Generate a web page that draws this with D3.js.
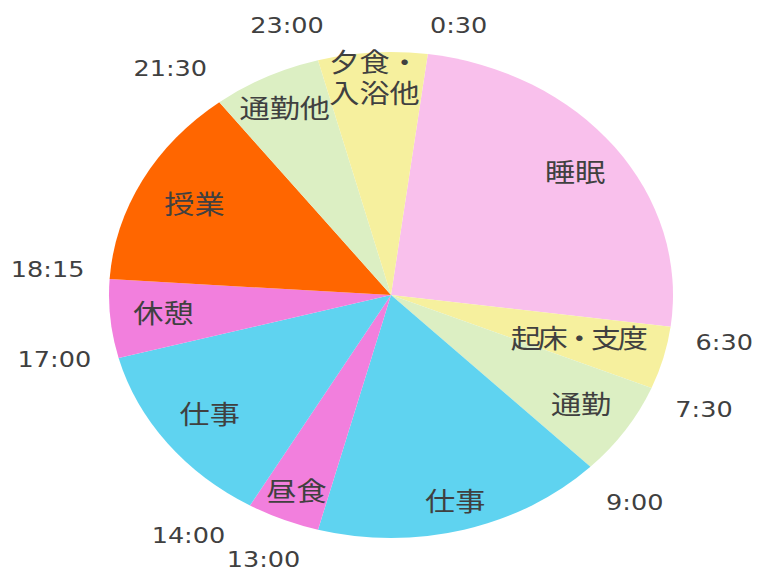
<!DOCTYPE html>
<html><head><meta charset="utf-8">
<script src="https://cdn.jsdelivr.net/npm/d3@7"></script>
<style>html,body{margin:0;padding:0;background:#fff;}svg{display:block;}</style>
</head><body>
<div id="chart"></div>
<script>
// ---- data ----
const categories = ["睡眠", "起床・支度", "通勤", "仕事", "昼食", "仕事", "休憩", "授業", "通勤他", "夕食・\n入浴他"];
const hours = [6, 1, 1.5, 4, 1, 3, 1.25, 3.25, 1.5, 1.5];
const timeLabels = ["0:30", "6:30", "7:30", "9:00", "13:00", "14:00", "17:00", "18:15", "21:30", "23:00"];

// ---- layout / style (not data) ----
const colors = ["#f9c0ec", "#f6f09e", "#dcefc3", "#5fd3f0", "#f27fdd", "#5fd3f0", "#f27fdd", "#ff6600", "#dcefc3", "#f6f09e"];
const labelRadius = [200, 168, 197, 214, 213, 197, 197, 192, 207, 217];
const timeNudge = { // [angle offset deg, radius offset]
  "0:30": [4.7, -17], "6:30": [1.8, -2], "7:30": [0.5, 0], "9:00": [-0.4, 2],
  "13:00": [7.6, -7], "14:00": [6, 4], "17:00": [2.6, 4], "18:15": [1.25, 4],
  "21:30": [-2.5, 3], "23:00": [-3.4, -9]
};

const W = 758, H = 573, cx = 391, cy = 295, R = 243, sx = 282 / 243;
const FS = 26;
const parseT = s => { const [h, m] = s.split(":").map(Number); return h + m / 60; };
const angle = d3.scaleLinear().domain([0, 24]).range([0, 2 * Math.PI]);
const a0 = angle(parseT(timeLabels[0]));

const svg = d3.select("#chart").append("svg").attr("width", W).attr("height", H);
const g = svg.append("g").attr("transform", `translate(${cx},${cy}) scale(${sx},1)`);

const pie = d3.pie().sort(null).value(d => d).startAngle(a0).endAngle(a0 + 2 * Math.PI);
const arcs = pie(hours);
const arc = d3.arc().innerRadius(0).outerRadius(R);

g.selectAll("path.slice").data(arcs).enter().append("path")
  .attr("class", "slice").attr("d", arc).attr("fill", (d, i) => colors[i]);

// category labels (an interior middle dot is set narrow, as in the reference)
function addLine(x, y, str) {
  const t = g.append("text").attr("x", x).attr("y", y).attr("dy", "0.35em")
    .attr("text-anchor", "middle").attr("fill", "#404040")
    .style("font-family", "'Noto Sans CJK JP', sans-serif").style("font-size", FS + "px")
    .text(str);
  const inner = (str.slice(0, -1).match(/・/g) || []).length;
  if (inner) {
    t.attr("textLength", (str.length - inner * 0.45) * FS).attr("lengthAdjust", "spacing");
  }
}
arcs.forEach((d, i) => {
  const m = (d.startAngle + d.endAngle) / 2, r = labelRadius[i];
  const x = r * Math.sin(m), y = -r * Math.cos(m);
  const lines = categories[i].split("\n");
  const lh = 31;
  lines.forEach((ln, k) => addLine(x, y + (k - (lines.length - 1) / 2) * lh, ln));
});

// time labels at boundaries
timeLabels.forEach(s => {
  const nd = timeNudge[s] || [0, 0];
  const a = angle(parseT(s)) + nd[0] * Math.PI / 180, r = 293 + nd[1];
  g.append("text").attr("x", r * Math.sin(a)).attr("y", -r * Math.cos(a))
    .attr("text-anchor", "middle").attr("dy", "0.36em").attr("fill", "#404040")
    .style("font-family", "'DejaVu Sans', sans-serif").style("font-size", "22px")
    .text(s);
});
</script>
</body></html>
